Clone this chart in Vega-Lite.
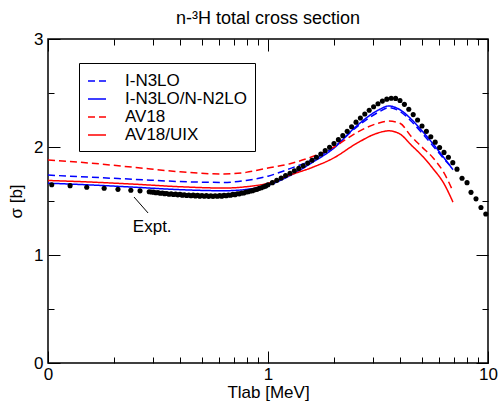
{
  "$schema": "https://vega.github.io/schema/vega-lite/v6.json",
  "width": 440,
  "height": 324,
  "autosize": {"type": "none"},
  "padding": {"left": 48, "top": 39, "right": 12, "bottom": 48},
  "background": "white",
  "title": {"text": "n-³H total cross section", "anchor": "middle", "frame": "group", "offset": 2, "fontSize": 18},
  "config": {
    "title": {"font": "Liberation Sans", "fontSize": 18, "fontWeight": "normal", "color": "black"},
    "view": {"stroke": "black", "strokeWidth": 1.5},
    "axis": {"domain": false, "grid": false, "tickColor": "black", "tickWidth": 1, "labelFont": "Liberation Sans", "labelFontSize": 17, "labelColor": "black", "titleFont": "Liberation Sans", "titleFontSize": 17, "titleColor": "black", "titleFontWeight": "normal"}
  },
  "datasets": {
    "theory": [
      {"E": 0.1, "s": 1.665, "model": "I-N3LO/N-N2LO"},
      {"E": 0.158, "s": 1.648, "model": "I-N3LO/N-N2LO"},
      {"E": 0.251, "s": 1.627, "model": "I-N3LO/N-N2LO"},
      {"E": 0.398, "s": 1.605, "model": "I-N3LO/N-N2LO"},
      {"E": 0.631, "s": 1.595, "model": "I-N3LO/N-N2LO"},
      {"E": 0.794, "s": 1.607, "model": "I-N3LO/N-N2LO"},
      {"E": 1.0, "s": 1.645, "model": "I-N3LO/N-N2LO"},
      {"E": 1.259, "s": 1.735, "model": "I-N3LO/N-N2LO"},
      {"E": 1.585, "s": 1.855, "model": "I-N3LO/N-N2LO"},
      {"E": 1.995, "s": 1.99, "model": "I-N3LO/N-N2LO"},
      {"E": 2.512, "s": 2.19, "model": "I-N3LO/N-N2LO"},
      {"E": 3.162, "s": 2.34, "model": "I-N3LO/N-N2LO"},
      {"E": 3.548, "s": 2.38, "model": "I-N3LO/N-N2LO"},
      {"E": 3.981, "s": 2.345, "model": "I-N3LO/N-N2LO"},
      {"E": 4.467, "s": 2.26, "model": "I-N3LO/N-N2LO"},
      {"E": 5.012, "s": 2.15, "model": "I-N3LO/N-N2LO"},
      {"E": 5.623, "s": 2.03, "model": "I-N3LO/N-N2LO"},
      {"E": 6.31, "s": 1.9, "model": "I-N3LO/N-N2LO"},
      {"E": 6.93, "s": 1.79, "model": "I-N3LO/N-N2LO"},
      {"E": 0.1, "s": 1.74, "model": "I-N3LO"},
      {"E": 0.158, "s": 1.72, "model": "I-N3LO"},
      {"E": 0.251, "s": 1.70, "model": "I-N3LO"},
      {"E": 0.398, "s": 1.68, "model": "I-N3LO"},
      {"E": 0.631, "s": 1.672, "model": "I-N3LO"},
      {"E": 0.794, "s": 1.69, "model": "I-N3LO"},
      {"E": 1.0, "s": 1.73, "model": "I-N3LO"},
      {"E": 1.259, "s": 1.80, "model": "I-N3LO"},
      {"E": 1.585, "s": 1.88, "model": "I-N3LO"},
      {"E": 1.995, "s": 2.00, "model": "I-N3LO"},
      {"E": 2.512, "s": 2.18, "model": "I-N3LO"},
      {"E": 3.162, "s": 2.32, "model": "I-N3LO"},
      {"E": 3.548, "s": 2.365, "model": "I-N3LO"},
      {"E": 3.981, "s": 2.33, "model": "I-N3LO"},
      {"E": 4.467, "s": 2.24, "model": "I-N3LO"},
      {"E": 5.012, "s": 2.13, "model": "I-N3LO"},
      {"E": 5.623, "s": 2.01, "model": "I-N3LO"},
      {"E": 6.31, "s": 1.89, "model": "I-N3LO"},
      {"E": 6.93, "s": 1.80, "model": "I-N3LO"},
      {"E": 0.1, "s": 1.88, "model": "AV18"},
      {"E": 0.158, "s": 1.85, "model": "AV18"},
      {"E": 0.251, "s": 1.81, "model": "AV18"},
      {"E": 0.398, "s": 1.77, "model": "AV18"},
      {"E": 0.631, "s": 1.75, "model": "AV18"},
      {"E": 0.794, "s": 1.765, "model": "AV18"},
      {"E": 1.0, "s": 1.805, "model": "AV18"},
      {"E": 1.259, "s": 1.845, "model": "AV18"},
      {"E": 1.585, "s": 1.91, "model": "AV18"},
      {"E": 1.995, "s": 2.00, "model": "AV18"},
      {"E": 2.512, "s": 2.13, "model": "AV18"},
      {"E": 3.162, "s": 2.22, "model": "AV18"},
      {"E": 3.548, "s": 2.24, "model": "AV18"},
      {"E": 3.981, "s": 2.22, "model": "AV18"},
      {"E": 4.467, "s": 2.10, "model": "AV18"},
      {"E": 5.012, "s": 2.00, "model": "AV18"},
      {"E": 5.623, "s": 1.90, "model": "AV18"},
      {"E": 6.31, "s": 1.76, "model": "AV18"},
      {"E": 6.93, "s": 1.59, "model": "AV18"},
      {"E": 0.1, "s": 1.69, "model": "AV18/UIX"},
      {"E": 0.158, "s": 1.675, "model": "AV18/UIX"},
      {"E": 0.251, "s": 1.655, "model": "AV18/UIX"},
      {"E": 0.398, "s": 1.632, "model": "AV18/UIX"},
      {"E": 0.631, "s": 1.62, "model": "AV18/UIX"},
      {"E": 0.794, "s": 1.632, "model": "AV18/UIX"},
      {"E": 1.0, "s": 1.665, "model": "AV18/UIX"},
      {"E": 1.259, "s": 1.74, "model": "AV18/UIX"},
      {"E": 1.585, "s": 1.81, "model": "AV18/UIX"},
      {"E": 1.995, "s": 1.90, "model": "AV18/UIX"},
      {"E": 2.512, "s": 2.03, "model": "AV18/UIX"},
      {"E": 3.162, "s": 2.13, "model": "AV18/UIX"},
      {"E": 3.548, "s": 2.15, "model": "AV18/UIX"},
      {"E": 3.981, "s": 2.12, "model": "AV18/UIX"},
      {"E": 4.467, "s": 2.02, "model": "AV18/UIX"},
      {"E": 5.012, "s": 1.92, "model": "AV18/UIX"},
      {"E": 5.623, "s": 1.80, "model": "AV18/UIX"},
      {"E": 6.31, "s": 1.66, "model": "AV18/UIX"},
      {"E": 6.93, "s": 1.49, "model": "AV18/UIX"}
    ],
    "expt": [
      {"E": 0.104, "s": 1.650}, {"E": 0.126, "s": 1.642}, {"E": 0.150, "s": 1.628}, {"E": 0.180, "s": 1.618},
      {"E": 0.208, "s": 1.608}, {"E": 0.238, "s": 1.600}, {"E": 0.262, "s": 1.594},
      {"E": 0.2884, "s": 1.586}, {"E": 0.2951, "s": 1.583}, {"E": 0.3020, "s": 1.582}, {"E": 0.3090, "s": 1.576}, {"E": 0.3162, "s": 1.578},
      {"E": 0.3236, "s": 1.572}, {"E": 0.3311, "s": 1.574}, {"E": 0.3388, "s": 1.568}, {"E": 0.3467, "s": 1.570}, {"E": 0.3548, "s": 1.563},
      {"E": 0.3631, "s": 1.567}, {"E": 0.3715, "s": 1.560}, {"E": 0.3802, "s": 1.564}, {"E": 0.3890, "s": 1.557},
      {"E": 0.3981, "s": 1.561}, {"E": 0.4074, "s": 1.554}, {"E": 0.4169, "s": 1.558}, {"E": 0.4266, "s": 1.551}, {"E": 0.4365, "s": 1.556},
      {"E": 0.4467, "s": 1.549}, {"E": 0.4571, "s": 1.554}, {"E": 0.4677, "s": 1.547},
      {"E": 0.4786, "s": 1.552}, {"E": 0.4898, "s": 1.545}, {"E": 0.5012, "s": 1.551}, {"E": 0.5129, "s": 1.544}, {"E": 0.5248, "s": 1.550},
      {"E": 0.5370, "s": 1.543}, {"E": 0.5495, "s": 1.549}, {"E": 0.5623, "s": 1.543},
      {"E": 0.5754, "s": 1.549}, {"E": 0.5888, "s": 1.544}, {"E": 0.6026, "s": 1.550}, {"E": 0.6166, "s": 1.545}, {"E": 0.6310, "s": 1.552},
      {"E": 0.6457, "s": 1.548}, {"E": 0.6607, "s": 1.556}, {"E": 0.6761, "s": 1.553},
      {"E": 0.6918, "s": 1.561}, {"E": 0.7079, "s": 1.559}, {"E": 0.7244, "s": 1.567}, {"E": 0.7413, "s": 1.566}, {"E": 0.7586, "s": 1.574},
      {"E": 0.7762, "s": 1.574}, {"E": 0.7943, "s": 1.583}, {"E": 0.8128, "s": 1.585},
      {"E": 0.8318, "s": 1.593}, {"E": 0.8511, "s": 1.596}, {"E": 0.8710, "s": 1.604}, {"E": 0.8913, "s": 1.608}, {"E": 0.9120, "s": 1.617},
      {"E": 0.9333, "s": 1.622}, {"E": 0.9550, "s": 1.632}, {"E": 0.9772, "s": 1.638},
      {"E": 1.000, "s": 1.650}, {"E": 1.047, "s": 1.670}, {"E": 1.096, "s": 1.691}, {"E": 1.148, "s": 1.713},
      {"E": 1.202, "s": 1.735}, {"E": 1.259, "s": 1.757}, {"E": 1.318, "s": 1.779}, {"E": 1.380, "s": 1.802},
      {"E": 1.445, "s": 1.826}, {"E": 1.514, "s": 1.851}, {"E": 1.585, "s": 1.877}, {"E": 1.660, "s": 1.905},
      {"E": 1.738, "s": 1.935}, {"E": 1.820, "s": 1.966}, {"E": 1.905, "s": 1.998}, {"E": 1.995, "s": 2.032},
      {"E": 2.089, "s": 2.068}, {"E": 2.188, "s": 2.105}, {"E": 2.291, "s": 2.145}, {"E": 2.399, "s": 2.188},
      {"E": 2.512, "s": 2.230}, {"E": 2.630, "s": 2.268}, {"E": 2.754, "s": 2.305}, {"E": 2.884, "s": 2.340},
      {"E": 3.020, "s": 2.372}, {"E": 3.162, "s": 2.400}, {"E": 3.311, "s": 2.425}, {"E": 3.467, "s": 2.443},
      {"E": 3.631, "s": 2.452}, {"E": 3.802, "s": 2.450}, {"E": 3.981, "s": 2.430}, {"E": 4.169, "s": 2.395},
      {"E": 4.365, "s": 2.350}, {"E": 4.571, "s": 2.300}, {"E": 4.786, "s": 2.250}, {"E": 5.012, "s": 2.195},
      {"E": 5.248, "s": 2.145}, {"E": 5.495, "s": 2.095}, {"E": 5.754, "s": 2.045}, {"E": 6.026, "s": 1.995},
      {"E": 6.310, "s": 1.950}, {"E": 6.607, "s": 1.905}, {"E": 6.918, "s": 1.855}, {"E": 7.23, "s": 1.795},
      {"E": 7.62, "s": 1.71}, {"E": 8.03, "s": 1.67}, {"E": 8.37, "s": 1.58}, {"E": 8.82, "s": 1.52},
      {"E": 9.29, "s": 1.44}, {"E": 9.77, "s": 1.38}
    ],
    "annot": [
      {"E": 0.246, "s": 1.537, "E2": 0.285, "s2": 1.389, "label": "Expt.", "tE": 0.243, "ts": 1.26}
    ]
  },
  "layer": [
    {
      "data": {"name": "theory"},
      "mark": {"type": "line", "strokeWidth": 1.5, "interpolate": "monotone"},
      "encoding": {
        "x": {"field": "E", "type": "quantitative", "scale": {"type": "log", "domain": [0.1, 10], "nice": false},
              "axis": {"orient": "bottom", "values": [0.1, 1, 10], "tickSize": -12, "labelPadding": 15, "labelFlush": false,
                       "labelExpr": "datum.value < 0.5 ? '0' : (datum.value < 5 ? '1' : '10')", "title": "Tlab [MeV]", "titlePadding": 2}},
        "y": {"field": "s", "type": "quantitative", "scale": {"domain": [0, 3], "nice": false},
              "axis": {"orient": "left", "values": [0, 1, 2, 3], "tickSize": -12, "labelPadding": 17, "labelFlush": false,
                       "title": "σ [b]", "titlePadding": 8}},
        "color": {"field": "model", "type": "nominal",
                  "scale": {"domain": ["I-N3LO", "I-N3LO/N-N2LO", "AV18", "AV18/UIX"], "range": ["#0000ff", "#0000ff", "#ff0000", "#ff0000"]},
                  "legend": {"orient": "none", "legendX": 31, "legendY": 24, "title": null, "symbolType": "stroke", "symbolStrokeWidth": 1.5,
                             "symbolSize": 324, "labelFont": "Liberation Sans", "labelFontSize": 17, "labelColor": "black",
                             "strokeColor": "black", "fillColor": "white", "padding": 8, "rowPadding": -2, "labelOffset": 18}},
        "strokeDash": {"field": "model", "type": "nominal",
                       "scale": {"domain": ["I-N3LO", "I-N3LO/N-N2LO", "AV18", "AV18/UIX"], "range": [[7, 4], [1, 0], [7, 4], [1, 0]]},
                       "legend": {"orient": "none", "legendX": 31, "legendY": 24, "title": null, "symbolType": "stroke", "symbolStrokeWidth": 1.5,
                             "symbolSize": 324, "labelFont": "Liberation Sans", "labelFontSize": 17, "labelColor": "black",
                             "strokeColor": "black", "fillColor": "white", "padding": 8, "rowPadding": -2, "labelOffset": 18}}
      }
    },
    {
      "data": {"name": "expt"},
      "mark": {"type": "circle", "size": 26, "color": "black", "opacity": 1},
      "encoding": {
        "x": {"field": "E", "type": "quantitative",
              "axis": {"orient": "bottom", "values": [0.2, 0.3, 0.4, 0.5, 0.6, 0.7, 0.8, 0.9, 2, 3, 4, 5, 6, 7, 8, 9], "tickSize": -6, "labels": false, "title": null}},
        "y": {"field": "s", "type": "quantitative",
              "axis": {"orient": "left", "values": [0.5, 1.5, 2.5], "tickSize": -6, "labels": false, "title": null}}
      }
    },
    {
      "data": {"name": "annot"},
      "mark": {"type": "rule", "color": "black", "strokeWidth": 1},
      "encoding": {
        "x": {"field": "E", "type": "quantitative",
              "axis": {"orient": "top", "values": [0.1, 1, 10], "tickSize": -12, "labels": false, "title": null}},
        "y": {"field": "s", "type": "quantitative",
              "axis": {"orient": "right", "values": [0, 1, 2, 3], "tickSize": -12, "labels": false, "title": null}},
        "x2": {"field": "E2"},
        "y2": {"field": "s2"}
      }
    },
    {
      "data": {"name": "annot"},
      "mark": {"type": "text", "align": "left", "baseline": "middle", "font": "Liberation Sans", "fontSize": 17, "color": "black"},
      "encoding": {
        "x": {"field": "tE", "type": "quantitative",
              "axis": {"orient": "top", "values": [0.2, 0.3, 0.4, 0.5, 0.6, 0.7, 0.8, 0.9, 2, 3, 4, 5, 6, 7, 8, 9], "tickSize": -6, "labels": false, "title": null}},
        "y": {"field": "ts", "type": "quantitative",
              "axis": {"orient": "right", "values": [0.5, 1.5, 2.5], "tickSize": -6, "labels": false, "title": null}},
        "text": {"field": "label"}
      }
    }
  ],
  "resolve": {"axis": {"x": "independent", "y": "independent"}}
}
